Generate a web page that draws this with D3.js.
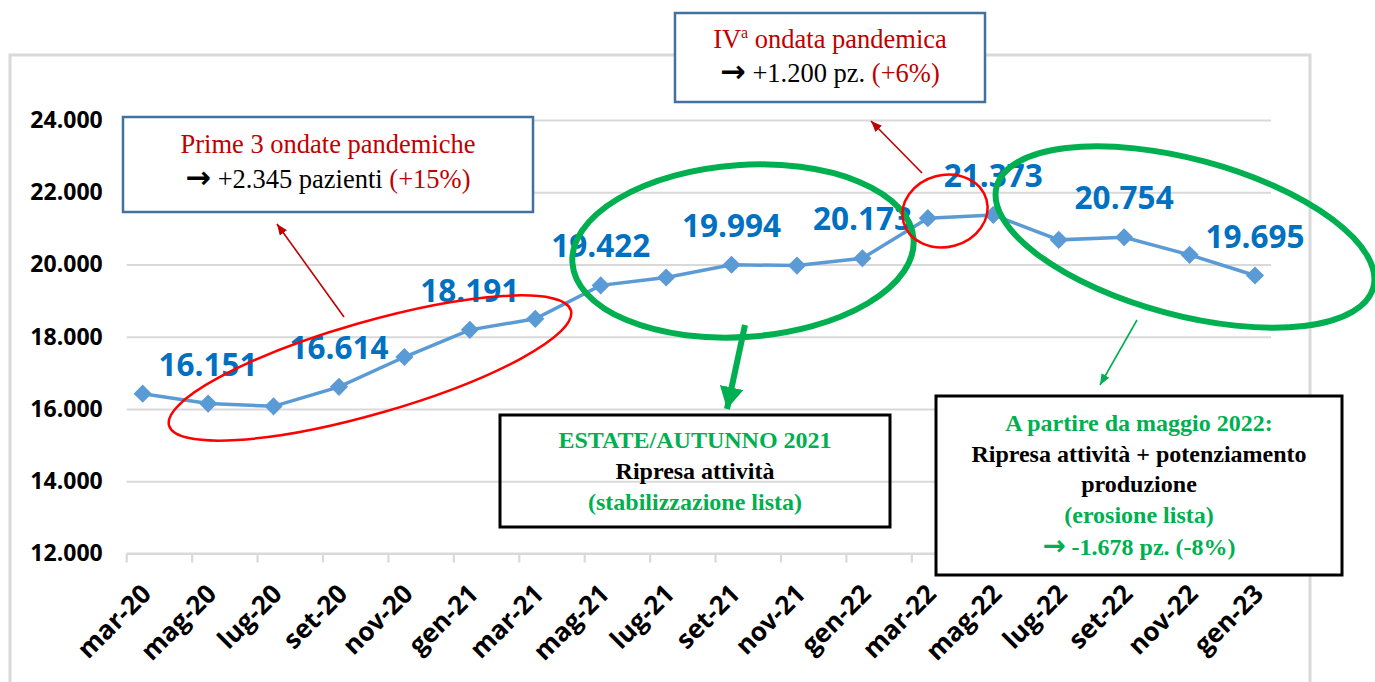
<!DOCTYPE html>
<html><head><meta charset="utf-8">
<script src="https://cdn.jsdelivr.net/npm/d3@7/dist/d3.min.js"></script>
<style>body{margin:0;background:#fff;}svg{display:block}</style>
</head><body>
<svg id="chart" width="1375" height="682"></svg>
<script>
// ---- data ----
const categories = ["mar-20","mag-20","lug-20","set-20","nov-20","gen-21","mar-21","mag-21","lug-21","set-21","nov-21","gen-22","mar-22","mag-22","lug-22","set-22","nov-22","gen-23"];
const values = [16424,16151,16073,16614,17439,18191,18496,19422,19640,19994,19970,20173,21282,21373,20682,20754,20268,19695];
const labelledCategories = ["mag-20","set-20","gen-21","mag-21","set-21","gen-22","mag-22","set-22","gen-23"];
const yTickValues = [12000,14000,16000,18000,20000,22000,24000];

// annotation texts
const boxWave123 = ["Prime 3 ondate pandemiche", "+2.345 pazienti ", "(+15%)"];
const boxWave4 = ["IV", "a", " ondata pandemica", "+1.200 pz. ", "(+6%)"];
const boxSummer = ["ESTATE/AUTUNNO 2021", "Ripresa attività", "(stabilizzazione lista)"];
const boxMay22 = ["A partire da maggio 2022:", "Ripresa attività + potenziamento", "produzione", "(erosione lista)", "-1.678 pz. (-8%)"];

const it = d3.formatLocale({decimal:",", thousands:".", grouping:[3], currency:["","€"]});
const fmt = it.format(",d");

const svg = d3.select("#chart");
const NUM_FONT = "'Open Sans', sans-serif";
const SERIF = "'Liberation Serif', 'Times New Roman', serif";
const RED = "#C00000", GREEN = "#00B050", BLUE_LINE = "#5B9BD5", BLUE_LBL = "#0070C0", GRID = "#D9D9D9";

const x = d3.scalePoint().domain(categories).range([142.7, 1255]);
const y = d3.scaleLinear().domain([12000, 24000]).range([553.5, 120]);
const x0 = x(categories[0]) - 16, x1 = x(categories[categories.length-1]) + 16;

// outer frame
svg.append("rect").attr("x",10).attr("y",55).attr("width",1300).attr("height",660)
  .attr("fill","none").attr("stroke",GRID).attr("stroke-width",3);

// gridlines + y labels
const yAxis = d3.axisLeft(y).tickValues(yTickValues).tickFormat(fmt).tickSize(-(x1-x0)).tickPadding(24);
const gy = svg.append("g").attr("transform",`translate(${x0},0)`).call(yAxis);
gy.select(".domain").remove();
gy.selectAll(".tick line").attr("stroke",GRID).attr("stroke-width",2.2);
gy.selectAll(".tick text").attr("font-family",NUM_FONT).attr("font-weight",700)
  .attr("font-size",23).attr("fill","#000");

// x axis
const gx = svg.append("g").attr("transform","translate(0,553.5)");
gx.append("line").attr("x1",x0).attr("x2",x1).attr("stroke",GRID).attr("stroke-width",2.2);
gx.selectAll("line.tk").data(categories.concat(["_end"])).join("line").attr("class","tk")
  .attr("x1",(d,i)=> i<categories.length ? x(d)-16 : x1).attr("x2",(d,i)=> i<categories.length ? x(d)-16 : x1)
  .attr("y1",0).attr("y2",9).attr("stroke",GRID).attr("stroke-width",2.2);
gx.selectAll("text").data(categories).join("text")
  .attr("transform",d=>`translate(${x(d)+10},${42}) rotate(-45)`)
  .attr("text-anchor","end").attr("font-family",NUM_FONT).attr("font-weight",700)
  .attr("font-size",26).attr("fill","#000").text(d=>d);

// line
const line = d3.line().x((d,i)=>x(categories[i])).y(d=>y(d));
svg.append("path").datum(values).attr("d",line).attr("fill","none")
  .attr("stroke",BLUE_LINE).attr("stroke-width",3.5);
svg.append("g").selectAll("path").data(values).join("path")
  .attr("d",d3.symbol(d3.symbolSquare,165)())
  .attr("transform",(d,i)=>`translate(${x(categories[i])},${y(d)}) rotate(45)`)
  .attr("fill",BLUE_LINE);

// data labels
svg.append("g").selectAll("text").data(categories.map((c,i)=>({c,v:values[i]})).filter(d=>labelledCategories.includes(d.c)))
  .join("text").attr("x",d=>x(d.c)).attr("y",d=>y(d.v)-28).attr("text-anchor","middle")
  .attr("font-family",NUM_FONT).attr("font-weight",700).attr("font-size",31.5).attr("fill",BLUE_LBL)
  .text(d=>fmt(d.v));

// ellipses
function ell(cx,cy,rx,ry,rot,color,w){
  svg.append("ellipse").attr("cx",0).attr("cy",0).attr("rx",rx).attr("ry",ry)
    .attr("transform",`translate(${cx},${cy}) rotate(${rot})`)
    .attr("fill","none").attr("stroke",color).attr("stroke-width",w);
}
ell(370,368,209,46,-16,"#FF0000",2.5);
ell(743,251,171,86,-4,GREEN,6);
ell(945,211,43,36,-15,"#FF0000",2.5);
ell(1185,237,195,78,15,GREEN,6);

// arrows
const defs = svg.append("defs");
function mk(id,color,len,wid){
  defs.append("marker").attr("id",id).attr("markerUnits","userSpaceOnUse")
    .attr("viewBox",`0 0 ${len} ${wid}`).attr("refX",len).attr("refY",wid/2)
    .attr("markerWidth",len).attr("markerHeight",wid).attr("orient","auto")
    .append("path").attr("d",`M0,0L${len},${wid/2}L0,${wid}Z`).attr("fill",color);
}
mk("hr",RED,11,9); mk("hg",GREEN,22,24); mk("hg2",GREEN,11,9);
function arrow(xa,ya,xb,yb,color,w,m){
  svg.append("line").attr("x1",xa).attr("y1",ya).attr("x2",xb).attr("y2",yb)
    .attr("stroke",color).attr("stroke-width",w).attr("marker-end",`url(#${m})`);
}
arrow(344,317,277,224,RED,1.6,"hr");
arrow(922,173,871,121,RED,1.6,"hr");
arrow(745,325,727,409,GREEN,6,"hg");
arrow(1137,320,1100,385,GREEN,1.6,"hg2");

// boxes
function box(x0,y0,x1,y1,stroke,sw,fill){
  svg.append("rect").attr("x",x0).attr("y",y0).attr("width",x1-x0).attr("height",y1-y0)
    .attr("fill",fill).attr("stroke",stroke).attr("stroke-width",sw);
}
function arrowGlyph(t,color){
  t.append("tspan").attr("font-family","'DejaVu Sans', sans-serif").attr("font-weight",700)
   .attr("font-size","1.15em").attr("fill",color).text("\u2192");
  t.append("tspan").text(" ");
}
// box 1
box(123,117,533,212,"#41719C",2.5,"#fff");
let t = svg.append("text").attr("x",328).attr("y",153).attr("text-anchor","middle")
  .attr("font-family",SERIF).attr("font-size",26.5).attr("fill",RED).text(boxWave123[0]);
t = svg.append("text").attr("x",328).attr("y",188).attr("text-anchor","middle")
  .attr("font-family",SERIF).attr("font-size",26.5).attr("fill","#000");
arrowGlyph(t,"#000"); t.append("tspan").text(boxWave123[1]); t.append("tspan").attr("fill",RED).text(boxWave123[2]);

// box 2
box(675,13,985,102,"#41719C",2.5,"#fff");
t = svg.append("text").attr("x",830).attr("y",48).attr("text-anchor","middle")
  .attr("font-family",SERIF).attr("font-size",26.5).attr("fill",RED);
t.append("tspan").text(boxWave4[0]);
t.append("tspan").attr("font-size",16).attr("dy",-10).text(boxWave4[1]);
t.append("tspan").attr("dy",10).text(boxWave4[2]);
t = svg.append("text").attr("x",830).attr("y",82).attr("text-anchor","middle")
  .attr("font-family",SERIF).attr("font-size",26.5).attr("fill","#000");
arrowGlyph(t,"#000"); t.append("tspan").text(boxWave4[3]); t.append("tspan").attr("fill",RED).text(boxWave4[4]);

// box 3 (transparent)
box(500,415,890,527,"#000",3,"none");
[[boxSummer[0],448,GREEN],[boxSummer[1],479,"#000"],[boxSummer[2],510,GREEN]].forEach(([s,yy,c])=>{
  svg.append("text").attr("x",695).attr("y",yy).attr("text-anchor","middle").attr("font-family",SERIF)
    .attr("font-weight",700).attr("font-size",24).attr("fill",c).text(s);
});

// box 4
box(936,396,1342,575,"#000",3,"#fff");
[[boxMay22[0],431,GREEN],[boxMay22[1],462,"#000"],[boxMay22[2],492,"#000"],[boxMay22[3],523,GREEN]].forEach(([s,yy,c])=>{
  svg.append("text").attr("x",1139).attr("y",yy).attr("text-anchor","middle").attr("font-family",SERIF)
    .attr("font-weight",700).attr("font-size",24).attr("fill",c).text(s);
});
t = svg.append("text").attr("x",1139).attr("y",555).attr("text-anchor","middle").attr("font-family",SERIF)
  .attr("font-weight",700).attr("font-size",24).attr("fill",GREEN);
arrowGlyph(t,GREEN); t.append("tspan").text(boxMay22[4]);
</script>
</body></html>
